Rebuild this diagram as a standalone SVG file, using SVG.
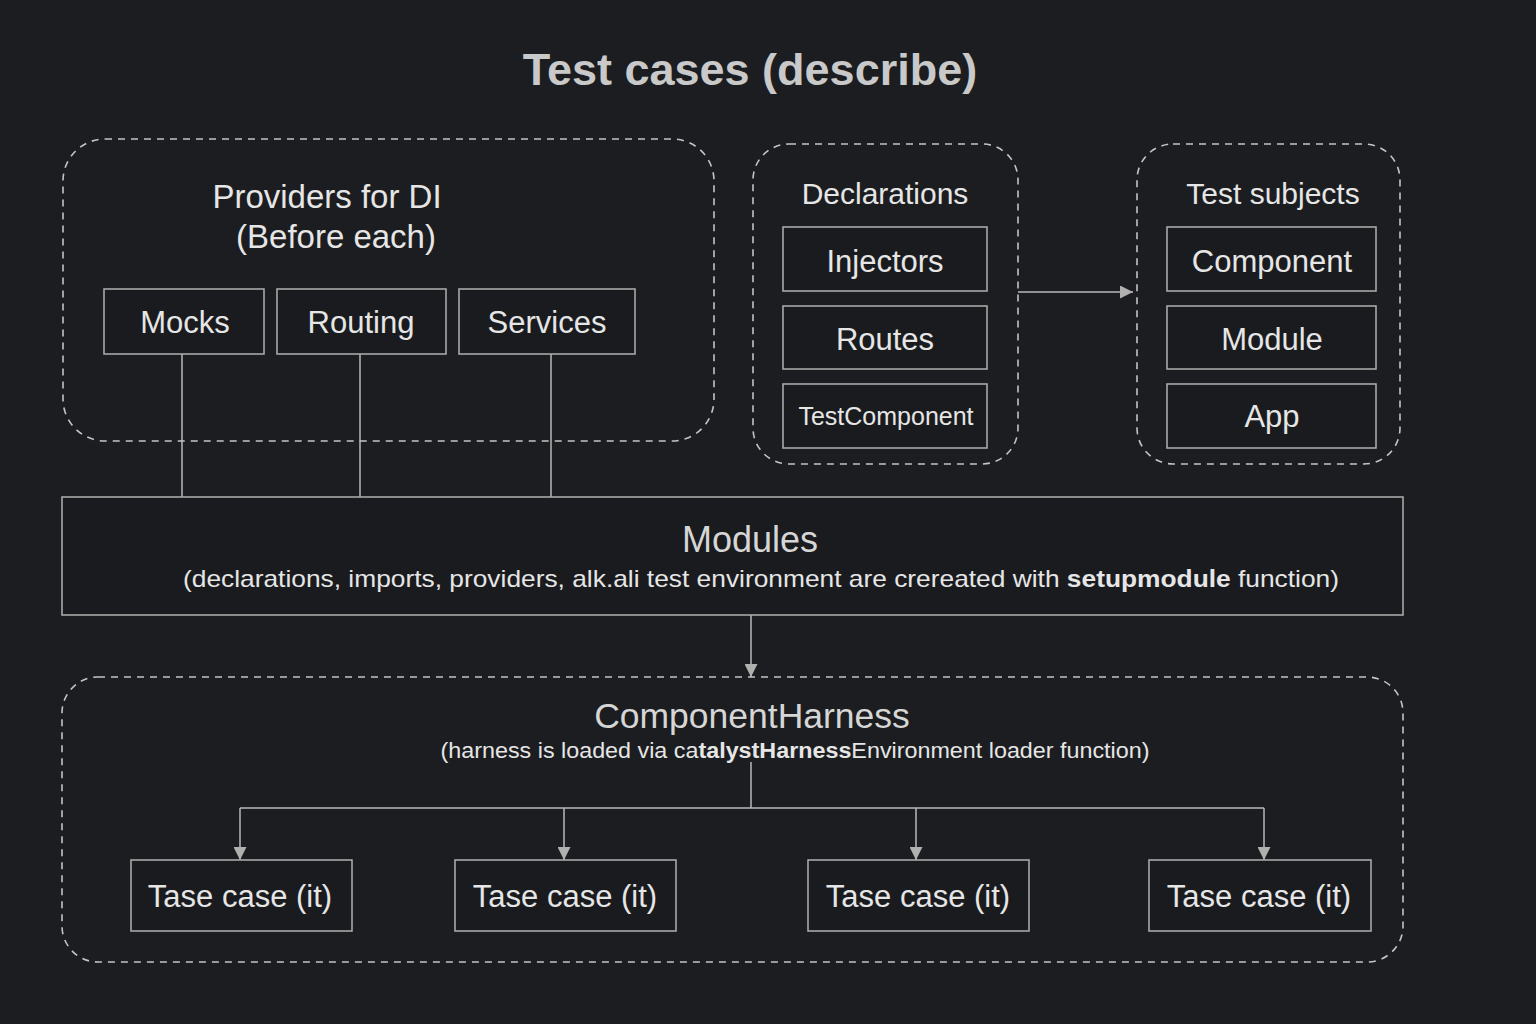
<svg xmlns="http://www.w3.org/2000/svg" width="1536" height="1024" viewBox="0 0 1536 1024">
<defs>
<style>
.bg{fill:#1c1d20}
.grp{fill:none;stroke:#c4c4c4;stroke-width:1.6;stroke-dasharray:7 6}
.box{fill:#1a1b1e;stroke:#a8a8a8;stroke-width:1.6}
.ln{fill:none;stroke:#b8b8b8;stroke-width:1.5}
text{font-family:"Liberation Sans",Arial,sans-serif;fill:#e6e6e6;text-anchor:middle}
.t{font-size:31px}
.h{font-size:33px}
.sub{font-size:24px}
</style>
<marker id="ah" viewBox="0 0 10 10" refX="10" refY="5" markerWidth="13" markerHeight="13" markerUnits="userSpaceOnUse" orient="auto">
<path d="M0,0 L10,5 L0,10 z" fill="#b0b0b0"/>
</marker>
</defs>
<rect class="bg" x="0" y="0" width="1536" height="1024"/>
<text x="750" y="85" style="font-size:45px;font-weight:bold;fill:#c9c9c9">Test cases (describe)</text>

<g id="connectors">
<line class="ln" x1="182" y1="354" x2="182" y2="497"/>
<line class="ln" x1="360" y1="354" x2="360" y2="497"/>
<line class="ln" x1="551" y1="354" x2="551" y2="497"/>
<line class="ln" x1="1018" y1="292" x2="1133" y2="292" marker-end="url(#ah)"/>
<line class="ln" x1="751" y1="615" x2="751" y2="677" marker-end="url(#ah)"/>
<line class="ln" x1="751" y1="762" x2="751" y2="808"/>
<line class="ln" x1="240" y1="808" x2="1264" y2="808"/>
<line class="ln" x1="240" y1="808" x2="240" y2="860" marker-end="url(#ah)"/>
<line class="ln" x1="564" y1="808" x2="564" y2="860" marker-end="url(#ah)"/>
<line class="ln" x1="916" y1="808" x2="916" y2="860" marker-end="url(#ah)"/>
<line class="ln" x1="1264" y1="808" x2="1264" y2="860" marker-end="url(#ah)"/>
</g>

<g id="providers">
<rect class="grp" x="63" y="139" width="651" height="302" rx="42"/>
<text class="h" x="327" y="208">Providers for DI</text>
<text class="h" x="336" y="248">(Before each)</text>
</g>
<g id="mocks"><rect class="box" x="104" y="289" width="160" height="65"/><text class="t" x="185" y="333">Mocks</text></g>
<g id="routing"><rect class="box" x="277" y="289" width="169" height="65"/><text class="t" x="361" y="333">Routing</text></g>
<g id="services"><rect class="box" x="459" y="289" width="176" height="65"/><text class="t" x="547" y="333">Services</text></g>

<g id="declarations">
<rect class="grp" x="753" y="144" width="265" height="320" rx="36"/>
<text class="t" x="885" y="204" style="font-size:30px">Declarations</text>
</g>
<g id="injectors"><rect class="box" x="783" y="227" width="204" height="64"/><text class="t" x="885" y="272">Injectors</text></g>
<g id="routes"><rect class="box" x="783" y="306" width="204" height="63"/><text class="t" x="885" y="350">Routes</text></g>
<g id="testcomponent"><rect class="box" x="783" y="384" width="204" height="64"/><text x="886" y="425" style="font-size:25px">TestComponent</text></g>

<g id="testsubjects">
<rect class="grp" x="1137" y="144" width="263" height="320" rx="36"/>
<text class="t" x="1273" y="204" style="font-size:30px">Test subjects</text>
</g>
<g id="component"><rect class="box" x="1167" y="227" width="209" height="64"/><text class="t" x="1272" y="272">Component</text></g>
<g id="module"><rect class="box" x="1167" y="306" width="209" height="63"/><text class="t" x="1272" y="350">Module</text></g>
<g id="app"><rect class="box" x="1167" y="384" width="209" height="64"/><text class="t" x="1272" y="427">App</text></g>

<g id="modules">
<rect class="box" x="62" y="497" width="1341" height="118"/>
<text x="750" y="552" style="font-size:36px;fill:#d6d6d6">Modules</text>
<text class="sub" x="761" y="587" textLength="1156" lengthAdjust="spacingAndGlyphs">(declarations, imports, providers, alk.ali test environment are crereated with <tspan style="font-weight:bold">setupmodule</tspan> function)</text>
</g>

<g id="harness">
<rect class="grp" x="62" y="677" width="1341" height="285" rx="36"/>
<text x="752" y="728" style="font-size:35.5px;fill:#d6d6d6">ComponentHarness</text>
<text x="795" y="758" style="font-size:22px" textLength="709" lengthAdjust="spacingAndGlyphs">(harness is loaded via ca<tspan style="font-weight:bold">talystHarness</tspan>Environment loader function)</text>
</g>
<g id="tc1"><rect class="box" x="131" y="860" width="221" height="71"/><text class="t" x="240" y="907">Tase case (it)</text></g>
<g id="tc2"><rect class="box" x="455" y="860" width="221" height="71"/><text class="t" x="565" y="907">Tase case (it)</text></g>
<g id="tc3"><rect class="box" x="808" y="860" width="221" height="71"/><text class="t" x="918" y="907">Tase case (it)</text></g>
<g id="tc4"><rect class="box" x="1149" y="860" width="222" height="71"/><text class="t" x="1259" y="907">Tase case (it)</text></g>
</svg>
